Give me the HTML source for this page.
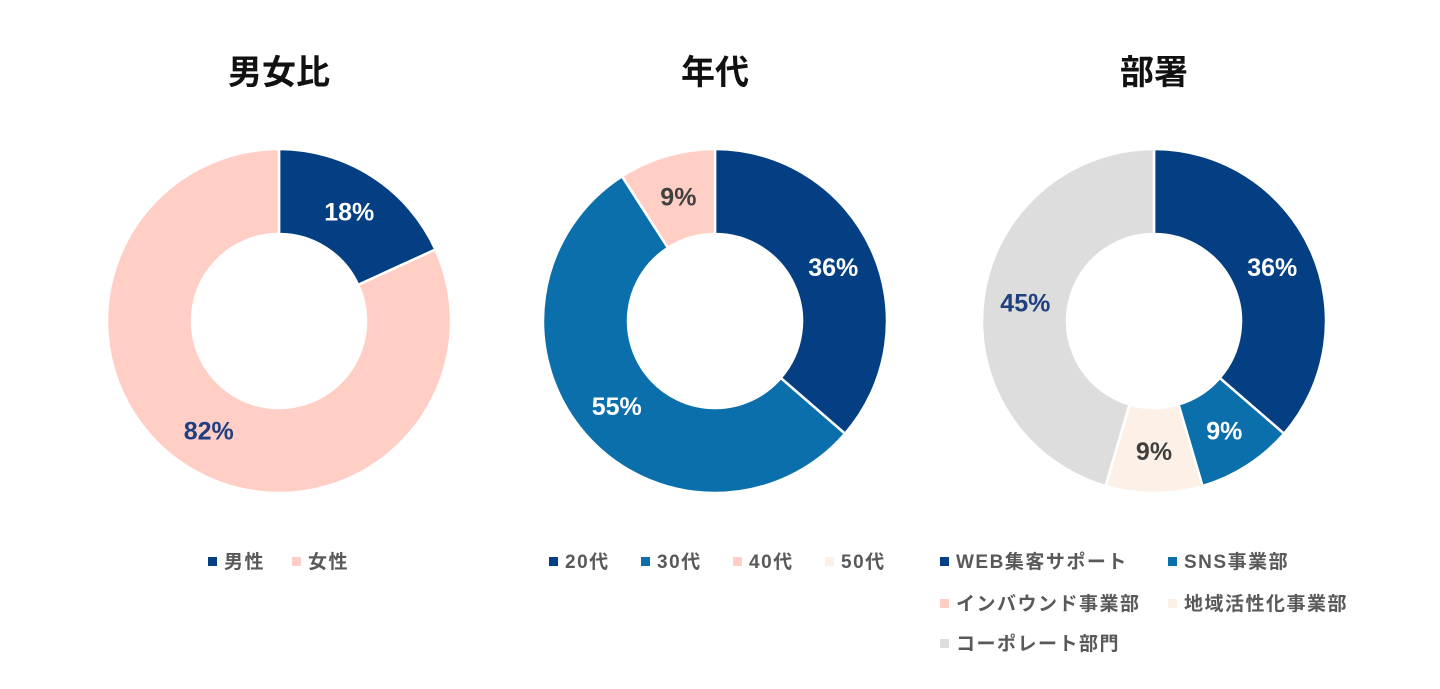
<!DOCTYPE html>
<html><head><meta charset="utf-8"><style>
body{margin:0;background:#fff;width:1440px;height:684px;overflow:hidden;font-family:"Liberation Sans","Noto Sans CJK JP",sans-serif}
svg text{font-family:"Liberation Sans","Noto Sans CJK JP",sans-serif}
</style></head><body>
<svg id="c" width="1440" height="684"></svg>
<script>
const titles=["男女比","年代","部署"];
const cats1=["男性","女性"];
const vals1=[2,9];
const cats2=["20代","30代","40代","50代"];
const vals2=[4,6,1,0];
const cats3=["WEB集客サポート","SNS事業部","インバウンド事業部","地域活性化事業部","コーポレート部門"];
const vals3=[4,1,0,1,5];
const colors=["#033f82","#0a6fab","#ffcfc6","#fdf1e7","#dddddd"];
const colors1=["#033f82","#ffcfc6"];
const NS="http://www.w3.org/2000/svg";
const svg=document.getElementById('c');
function mk(t,a,p){const e=document.createElementNS(NS,t);for(const k in a)e.setAttribute(k,a[k]);(p||svg).appendChild(e);return e;}
const centers=[279,715,1154], cy=321, R=172, r=87;
function donut(i,cats,vals,cols,lblCol){
  const cx=centers[i];
  const g=mk('g',{});
  
  
  const t=mk('text',{x:cx,y:84,'text-anchor':'middle','font-size':34,'font-weight':'bold',fill:'#111'},g);
  t.textContent=titles[i];
  
  
  const tot=vals.reduce((a,b)=>a+b,0);
  let a0=0;
  vals.forEach((v,j)=>{
    if(v<=0)return;
    const a1=a0+v/tot*2*Math.PI;
    const P=(rad,a)=>[cx+rad*Math.sin(a),cy-rad*Math.cos(a)];
    const [x1,y1]=P(R,a0),[x2,y2]=P(R,a1),[x3,y3]=P(r,a1),[x4,y4]=P(r,a0);
    const lg=(a1-a0)>Math.PI?1:0;
    const p=mk('path',{d:`M${x1},${y1}A${R},${R} 0 ${lg} 1 ${x2},${y2}L${x3},${y3}A${r},${r} 0 ${lg} 0 ${x4},${y4}Z`,fill:cols[j],stroke:'#fff','stroke-width':2.5},g);
    
    
    const am=(a0+a1)/2,[lx,ly]=P(130,am);
    const l=mk('text',{x:lx,y:ly+9,'text-anchor':'middle','font-size':25,'font-weight':'bold',fill:lblCol[j]},g);
    l.textContent=Math.round(v/tot*100)+'%';
    
    
    a0=a1;
  });
}
donut(0,cats1,vals1,colors1,["#ffffff","#1f3f7f"]);
donut(1,cats2,vals2,colors,["#ffffff","#ffffff","#404040","#404040"]);
donut(2,cats3,vals3,colors,["#ffffff","#ffffff","#404040","#404040","#1f3f7f"]);
function legendItem(x,y,c,txt){
  const g=mk('g',{});
  
  
  mk('rect',{x:x,y:y-6,width:9,height:9,fill:c},g);
  const t=mk('text',{x:x+16,y:y+5,'font-size':19,'font-weight':'bold',fill:'#595959','letter-spacing':1.5},g);
  t.textContent=txt;
}
legendItem(208,563,colors1[0],cats1[0]);legendItem(292,563,colors1[1],cats1[1]);
const l2x=[549,641,733,825];
cats2.forEach((c,k)=>legendItem(l2x[k],563,colors[k],c));
const l3=[[940,563],[1168,563],[940,605],[1168,605],[940,645]];
cats3.forEach((c,k)=>legendItem(l3[k][0],l3[k][1],colors[k],c));
</script>
</body></html>
